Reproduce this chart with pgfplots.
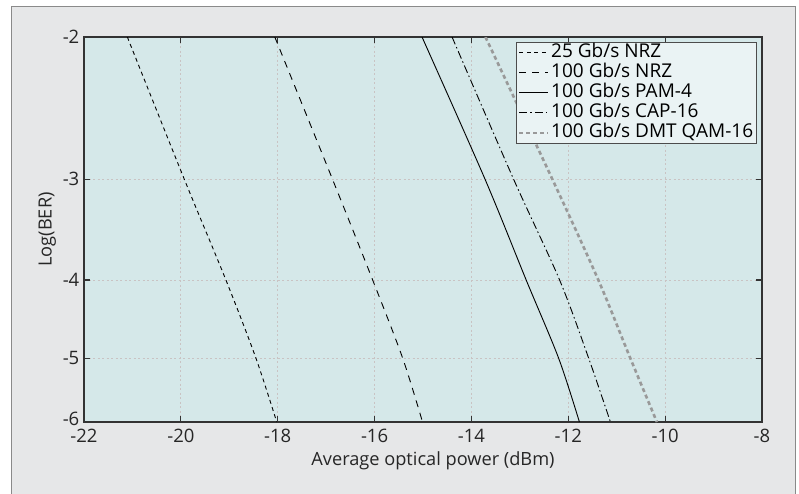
\documentclass[border=0pt]{standalone}
\usepackage{pgfplots}
\pgfplotsset{compat=1.18}
\usepackage{fontspec}
\setmainfont{Open Sans}
\definecolor{panelbg}{HTML}{E6E7E8}
\definecolor{panelbd}{HTML}{8A8A8A}
\definecolor{axbg}{HTML}{D5E8E9}
\definecolor{legbg}{HTML}{EAF3F4}
\definecolor{gridc}{HTML}{C9C3C3}
\definecolor{dmtc}{HTML}{999999}
\begin{document}
\fontsize{18bp}{21bp}\selectfont
\begin{tikzpicture}
\fill[panelbg, draw=panelbd, line width=1bp] (11bp,-10bp) rectangle (795bp,487bp);
\begin{axis}[
  at={(84bp,72bp)}, anchor=south west,
  width=678bp, height=385bp, scale only axis,
  xmin=-22, xmax=-8, ymin=2, ymax=6,
  ymode=log, y dir=reverse,
  xtick={-22,-20,...,-8},
  ytick={2,3,4,5,6}, yticklabels={-2,-3,-4,-5,\raisebox{6bp}{-6}},
  minor ytick={},
  /pgf/number format/assume math mode=true,
  ticklabel style={font=\fontsize{18.5bp}{21bp}\selectfont, text=black!85, inner sep=1bp},
  label style={font=\fontsize{18.2bp}{21bp}\selectfont, text=black!85},
  xlabel={Average optical power (dBm)},
  ylabel={Log(BER)},
  xlabel style={at={(axis description cs:0.5,0)}, anchor=center, yshift=-39bp, xshift=10bp},
  ylabel style={at={(axis description cs:-0.054,0.5)}, anchor=center},
  x tick label style={yshift=-6.2bp},
  y tick label style={xshift=-3.5bp},
  axis background/.style={fill=axbg},
  axis line style={black!80, line width=1.2bp},
  major tick length=6bp,
  tick style={black!80, line width=1.2bp},
  grid=major,
  major grid style={gridc, line width=0.8bp, dash pattern=on 2bp off 2.5bp},
  legend style={at={(1,1)}, anchor=north east, xshift=-5bp, yshift=-5bp,
    fill=legbg, draw=black!70, line width=0.8bp,
    font=\fontsize{19bp}{21bp}\selectfont, inner xsep=2bp, inner ysep=0.5bp,
    row sep=0bp, nodes={inner xsep=1.5bp, inner ysep=1.5bp, text height=13bp, text depth=4bp}},
  legend cell align=left,
  legend image code/.code={\draw[#1] (0bp,0bp) -- (29bp,0bp);},
]
\addplot[black, line width=0.9bp, smooth, dash pattern=on 4bp off 3.5bp] coordinates {
(-21.105,2) (-19.93,3) (-19.07,4) (-18.45,5) (-18.02,6)};
\addlegendentry{25 Gb/s NRZ}
\addplot[black, line width=0.9bp, smooth, dash pattern=on 7bp off 6bp] coordinates {
(-18.06,2) (-16.87,3) (-16.04,4) (-15.42,5) (-15.01,6)};
\addlegendentry{100 Gb/s NRZ}
\addplot[black, line width=0.9bp, smooth] coordinates {
(-15.02,2) (-13.72,3) (-12.87,4) (-12.20,5) (-11.77,6)};
\addlegendentry{100 Gb/s PAM-4}
\addplot[black, line width=0.9bp, smooth, dash pattern=on 8bp off 3bp on 1.5bp off 3bp] coordinates {
(-14.40,2) (-13.13,3) (-12.18,4) (-11.58,5) (-11.13,6)};
\addlegendentry{100 Gb/s CAP-16}
\addplot[dmtc, line width=2.6bp, smooth, dash pattern=on 4bp off 3bp] coordinates {
(-13.71,2) (-12.33,3) (-11.38,4) (-10.72,5) (-10.17,6)};
\addlegendentry{100 Gb/s DMT QAM-16}
\end{axis}
\pgfresetboundingbox
\useasboundingbox (0,0) rectangle (799bp,494bp);
\end{tikzpicture}
\end{document}
